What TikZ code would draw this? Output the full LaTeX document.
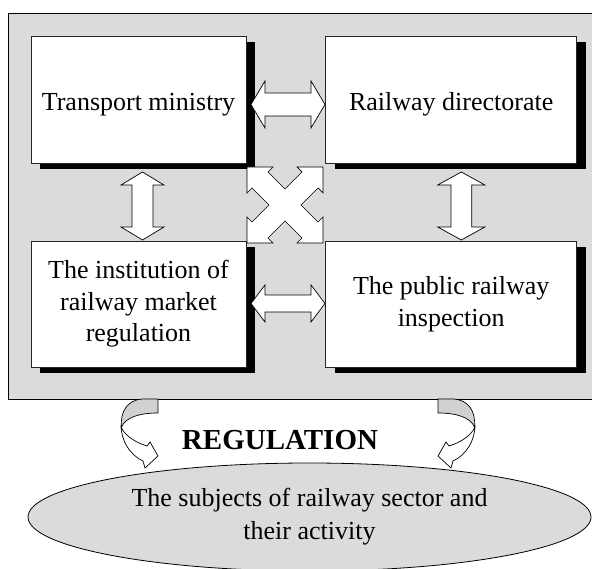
\documentclass[tikz,border=0pt]{standalone}
\usepackage{fontspec}
\setmainfont{Liberation Serif}
\usetikzlibrary{shadows,shapes.geometric}
\definecolor{panel}{gray}{0.86}
\definecolor{band}{gray}{0.82}

\tikzset{
  unit/.style={draw=black!85, line width=0.5pt, fill=white, align=center,
    inner sep=0pt, outer sep=0pt, font=\fontsize{26}{31.5}\selectfont,
    general shadow={fill=black, shadow xshift=9pt, shadow yshift=-6.5pt}},
  onerow/.style={text height=29pt, text depth=6pt},
  blockarrow/.style={draw=black, fill=white, line width=0.7pt, line join=miter},
}

% horizontal double block arrow: x from #1 to #2 at height #3, shaft/head half widths #4/#5
\newcommand{\hdouble}[5]{%
  \draw[blockarrow] (#1,#3) -- (#1+14,#3-#5) -- (#1+14,#3-#4) -- (#2-14,#3-#4)
    -- (#2-14,#3-#5) -- (#2,#3) -- (#2-14,#3+#5) -- (#2-14,#3+#4)
    -- (#1+14,#3+#4) -- (#1+14,#3+#5) -- cycle;}
% vertical double block arrow: at x #1, y from #2 to #3
\newcommand{\vdouble}[5]{%
  \draw[blockarrow] (#1,#2) -- (#1+#5,#2+13) -- (#1+#4,#2+13) -- (#1+#4,#3-13)
    -- (#1+#5,#3-13) -- (#1,#3) -- (#1-#5,#3-13) -- (#1-#4,#3-13)
    -- (#1-#4,#2+13) -- (#1-#5,#2+13) -- cycle;}
% twisted ribbon arrow hanging under the panel
\newcommand{\twistarrow}[1]{%
  \begin{scope}[#1]
    \filldraw[fill=band, line width=0.7pt] (0,0) -- (0,14)
      .. controls (-18,14) and (-32,18) .. (-36.5,28)
      .. controls (-38,12) and (-30,1) .. (-16,0) -- cycle;
    \filldraw[fill=white, line width=0.7pt, line join=miter] (-37,26)
      .. controls (-37,42) and (-28,56) .. (-15,62) -- (-13,69) -- (0,57)
      -- (-8,43) -- (-11,47) .. controls (-24,43) and (-33,36) .. (-36.5,29) -- cycle;
  \end{scope}}

\begin{document}
\begin{tikzpicture}[x=1pt, y=-1pt]
  \useasboundingbox (0,0) rectangle (592,569);

  % === Panel with the four bodies ===
  \draw[fill=panel, line width=0.8pt] (8,13.5) rectangle (600,399);

  \node[unit, onerow, minimum width=215pt, minimum height=127pt] (ministry)
    at (138.5,99.5) {Transport ministry};
  \node[unit, onerow, minimum width=251pt, minimum height=127pt] (directorate)
    at (451.2,99.5) {Railway directorate};
  \node[unit, minimum width=215pt, minimum height=126pt] (regulator)
    at (138.5,304) {The institution of\\railway market\\regulation};
  \node[unit, minimum width=251pt, minimum height=126pt] (inspection)
    at (451.2,304) {The public railway\\inspection};

  % links between the bodies
  \hdouble{251}{325}{104.5}{11.5}{23.5}
  \hdouble{251}{325}{303.5}{8.5}{18.5}
  \vdouble{142.5}{172}{240}{10.5}{21.5}
  \vdouble{461.3}{172}{240}{10.4}{23.6}

  % cross links
  \begin{scope}[shift={(285,205)}]
    \draw[blockarrow] (-38,-38) -- (-12,-38) -- (-17,-33) -- (0,-16) -- (17,-33)
      -- (12,-38) -- (38,-38) -- (38,-12) -- (33,-17) -- (16,0) -- (33,17)
      -- (38,12) -- (38,38) -- (12,38) -- (17,33) -- (0,16) -- (-17,33)
      -- (-12,38) -- (-38,38) -- (-38,12) -- (-33,17) -- (-16,0) -- (-33,-17)
      -- (-38,-12) -- cycle;
  \end{scope}

  % === Regulated sector ===
  \node[ellipse, draw, fill=panel, line width=0.8pt, inner sep=0pt,
    minimum width=563pt, minimum height=108pt, align=center,
    font=\fontsize{26}{33}\selectfont] (subjects) at (309.5,517)
    {The subjects of railway sector and\\their activity};

  \node[font=\fontsize{29}{34}\selectfont\bfseries] (regulation) at (280,440) {REGULATION};

  \twistarrow{shift={(158,399)}}
  \twistarrow{shift={(438,399)}, xscale=-1}
\end{tikzpicture}
\end{document}
